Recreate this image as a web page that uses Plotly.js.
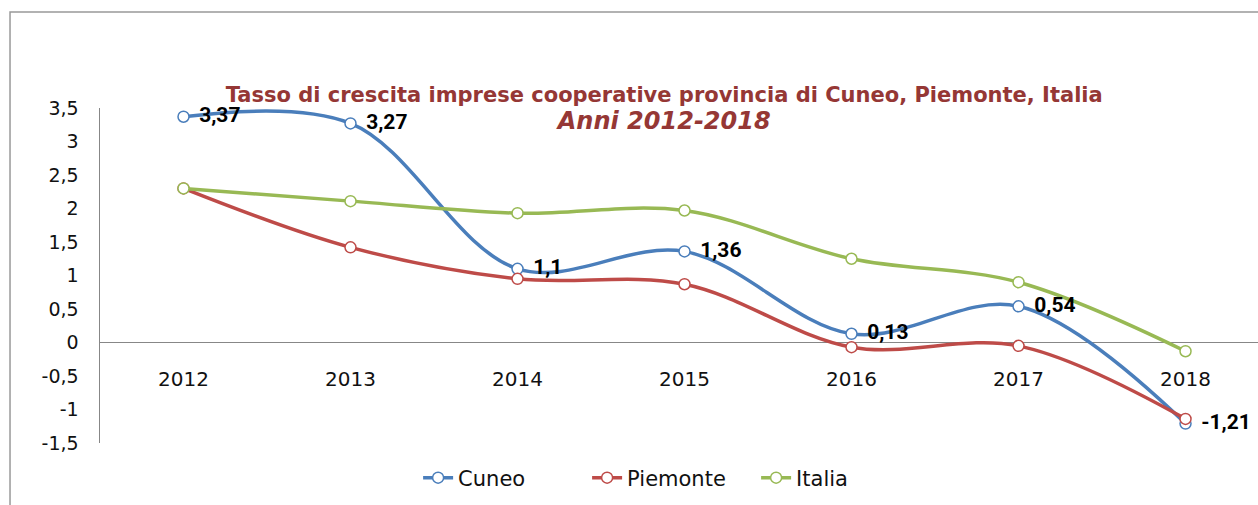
<!DOCTYPE html>
<html>
<head>
<meta charset="utf-8">
<script src="https://cdn.plot.ly/plotly-3.0.1.min.js"></script>
<style>
  html, body { margin: 0; padding: 0; background: #fff; }
  #chart { width: 1258px; height: 505px; }
</style>
</head>
<body>
<div id="chart"></div>
<script>
// dati
let anni = ['2012', '2013', '2014', '2015', '2016', '2017', '2018'];
let cuneo = [3.37, 3.27, 1.1, 1.36, 0.13, 0.54, -1.21];
let piemonte = [2.30, 1.42, 0.95, 0.87, -0.07, -0.05, -1.14];
let italia = [2.30, 2.11, 1.93, 1.97, 1.25, 0.90, -0.13];
let yTickVals = [-1.5, -1, -0.5, 0, 0.5, 1, 1.5, 2, 2.5, 3, 3.5];
let yTickText = ['-1,5', '-1', '-0,5', '0', '0,5', '1', '1,5', '2', '2,5', '3', '3,5'];

let blu = '#4A7EBB';
let rosso = '#BE4B48';
let verde = '#98B954';

function serie(nome, valori, colore) {
    return {
        type: 'scatter',
        mode: 'lines+markers',
        name: nome,
        x: anni,
        y: valori,
        line: { color: colore, width: 3.5, shape: 'spline', smoothing: 1 },
        marker: { symbol: 'circle', size: 11, color: '#ffffff', line: { color: colore, width: 1.5 } },
        cliponaxis: false
    };
}

// etichette dei valori di Cuneo
let etichette = {
    type: 'scatter',
    mode: 'text',
    x: anni,
    y: cuneo,
    text: cuneo.map(v => '\u00a0\u00a0\u00a0' + String(v).replace('.', ',')),
    textposition: 'middle right',
    textfont: { family: 'Roboto, sans-serif', size: 21, color: '#000', weight: 'bold' },
    showlegend: false,
    hoverinfo: 'skip',
    cliponaxis: false
};

let data = [serie('Cuneo', cuneo, blu), serie('Piemonte', piemonte, rosso), serie('Italia', italia, verde), etichette];

let layout = {
    width: 1258,
    height: 505,
    margin: { l: 100, r: 0, t: 108, b: 62 },
    paper_bgcolor: '#fff',
    plot_bgcolor: 'rgba(0,0,0,0)',
    font: { family: 'DejaVu Sans, Verdana, sans-serif', size: 19, color: '#111' },
    title: {
        text: '<b>Tasso di crescita imprese cooperative provincia di Cuneo, Piemonte, Italia</b><br><b><i><span style="font-size:24px">Anni 2012-2018</span></i></b>',
        font: { family: 'DejaVu Sans, Verdana, sans-serif', size: 21, color: '#953735' },
        xref: 'container', x: 0.528, xanchor: 'center',
        yref: 'container', y: 0.798, yanchor: 'middle'
    },
    xaxis: {
        type: 'category',
        range: [-0.5, 6.434],
        showgrid: false,
        showline: false,
        zeroline: false,
        ticks: '',
        anchor: 'free',
        position: 0.233,
        tickfont: { size: 20, color: '#111' }
    },
    yaxis: {
        range: [-1.5, 3.5],
        tickvals: yTickVals,
        ticktext: yTickText,
        showgrid: false,
        showline: true,
        linecolor: '#878787',
        linewidth: 1.5,
        zeroline: true,
        zerolinecolor: '#878787',
        zerolinewidth: 1.5,
        ticks: '',
        ticklabelstandoff: 16,
        tickfont: { size: 19, color: '#111' }
    },
    legend: {
        orientation: 'h',
        x: 0.2747, xanchor: 'left',
        y: -0.1045, yanchor: 'middle',
        entrywidth: 124,
        entrywidthmode: 'pixels',
        font: { size: 21, color: '#111' },
        bgcolor: 'rgba(0,0,0,0)'
    },
    shapes: [{
        type: 'rect', xref: 'paper', yref: 'paper',
        x0: -0.0777, x1: 1.2, y0: -0.5, y1: 1.2866,
        line: { color: '#999999', width: 1.5 },
        fillcolor: 'rgba(0,0,0,0)',
        layer: 'below'
    }],
    showlegend: true
};

Plotly.newPlot('chart', data, layout, { displayModeBar: false, staticPlot: true });
</script>
</body>
</html>
